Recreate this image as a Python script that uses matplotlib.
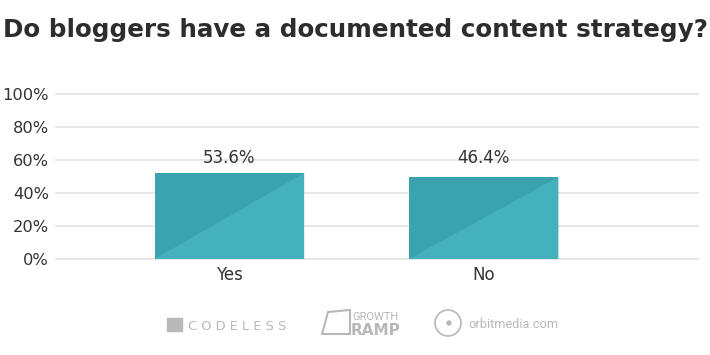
import matplotlib.pyplot as plt
from matplotlib.patches import Polygon, Ellipse, Rectangle
import numpy as np

categories = ["Yes", "No"]
bar_heights = [52.0, 49.7]
bar_labels = ["53.6%", "46.4%"]
yticks = [0, 20, 40, 60, 80, 100]

W, H = 710, 355
fig = plt.figure(figsize=(W/100, H/100), dpi=100)
ax = fig.add_axes([56/W, 1-259/H, (698-56)/W, 165/H])

x = np.arange(len(categories))
width = 0.588
bars = ax.bar(x, bar_heights, width=width, color="#3aa3ae", zorder=2)
# lighter lower-right triangle on each bar
for b in bars:
    x0, y0 = b.get_x(), b.get_y()
    x1, y1 = x0 + b.get_width(), y0 + b.get_height()
    ax.add_patch(Polygon([(x0, y0), (x1, y1), (x1, y0)], closed=True,
                         color="#45b1bc", zorder=3, lw=0))

for b, lab in zip(bars, bar_labels):
    ax.text(b.get_x() + b.get_width()/2, 55.5, lab, ha="center", va="bottom",
            fontsize=12, color="#333333")

ax.set_xlim(-0.682, 1.843)
ax.set_ylim(0, 100)
ax.set_yticks(yticks)
ax.set_yticklabels([f"{v}%" for v in yticks], fontsize=11.7, color="#333333")
ax.set_xticks(x)
ax.set_xticklabels(categories, fontsize=12, color="#333333")
ax.tick_params(length=0, axis="y", pad=5)
ax.tick_params(length=0, axis="x", pad=5)
ax.grid(axis="y", color="#e3e3e3", lw=1.2, zorder=0)
for s in ax.spines.values():
    s.set_visible(False)
for gl in ax.get_ygridlines():
    gl.set_clip_on(False)

fig.text(3/W, 1-37/H, "Do bloggers have a documented content strategy?",
         fontsize=17.7, fontweight="bold", color="#2d2d2d", ha="left", va="baseline")

# footer logos
logo = "#b8b8b8"
def fx(px):
    return px / W
def fy(py):
    return 1 - py / H

fig.patches.append(Rectangle((fx(167), fy(331)), 15/W, 13/H,
                             transform=fig.transFigure, color=logo))
fig.text(fx(188), fy(330), "C O D E L E S S", fontsize=9.4, color=logo,
         va="baseline")
fig.patches.append(Polygon([(fx(322), fy(334)), (fx(328), fy(312)), (fx(350), fy(310)),
                            (fx(350), fy(334))], closed=True,
                           transform=fig.transFigure, fill=False, ec=logo, lw=1.5))
fig.text(fx(352), fy(320), "GROWTH", fontsize=8, color=logo, va="baseline",
         family="Roboto")
fig.text(fx(351), fy(335), "RAMP", fontsize=11, color=logo,
         fontweight="bold", va="baseline")
fig.patches.append(Ellipse((fx(448), fy(323)), 26/W, 26/H, transform=fig.transFigure,
                           fill=False, ec=logo, lw=1.2))
fig.patches.append(Ellipse((fx(449), fy(323)), 4/W, 4/H, transform=fig.transFigure,
                           color=logo))
fig.text(fx(468), fy(328), "orbitmedia.com", fontsize=9.2, color=logo,
         va="baseline", family="Roboto")

fig.savefig("out.png", dpi=100)
